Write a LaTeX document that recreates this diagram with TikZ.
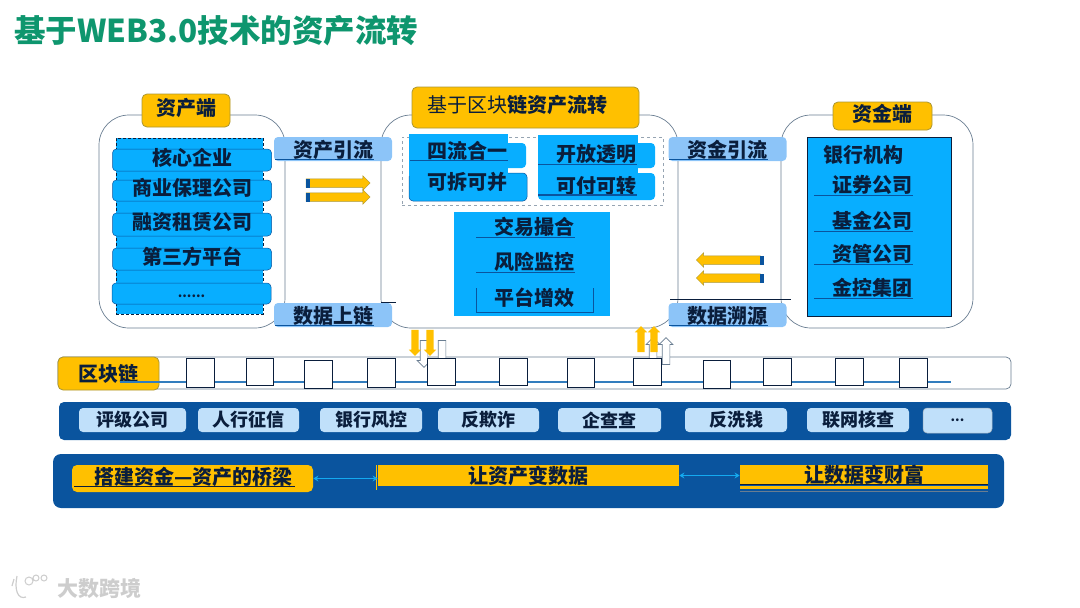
\documentclass[tikz,border=0pt]{standalone}
\usepackage{fontspec}
\setmainfont{Noto Sans CJK SC}
\usepackage{tikz}
\usetikzlibrary{positioning, arrows.meta, shapes.arrows}
\definecolor{titlegreen}{RGB}{14,150,110}
\definecolor{goldfill}{RGB}{255,192,0}
\definecolor{goldedge}{RGB}{170,150,50}
\definecolor{skyfill}{RGB}{8,174,255}
\definecolor{palefill}{RGB}{140,196,248}
\definecolor{pillfill}{RGB}{192,224,250}
\definecolor{navyband}{RGB}{10,84,158}
\definecolor{navyink}{RGB}{10,30,60}
\definecolor{edgegray}{RGB}{105,125,145}
\definecolor{linkcyan}{RGB}{20,170,240}
\definecolor{chainblue}{RGB}{50,125,190}
\definecolor{markgray}{RGB}{205,205,205}
\tikzset{
  txt/.style={font=\fontsize{#1}{#1}\selectfont\bfseries, text=navyink, inner sep=0pt},
  txt/.default=20,
  raised/.style={text height=15pt, text depth=5pt},
  panel/.style={draw=edgegray, rounded corners=30pt, line width=0.7pt, inner sep=0pt},
  goldbox/.style={
    draw=goldedge, fill=goldfill, rounded corners=5pt, line width=0.8pt,
    txt, inner sep=0pt
  },
  skybar/.style={
    draw=navyband, fill=skyfill, rounded corners=4pt, line width=0.5pt,
    txt, raised, minimum width=159pt, inner sep=0pt
  },
  skycell/.style={fill=skyfill, rounded corners=4pt, inner sep=0pt},
  skyrect/.style={fill=skyfill, inner sep=0pt},
  tagbox/.style={
    fill=palefill, rounded corners=4pt, txt, text depth=0pt,
    minimum width=118pt, minimum height=24pt
  },
  pillbox/.style={
    fill=pillfill, rounded corners=4pt, txt=18,
    minimum height=24pt
  },
  uline/.style={draw=navyband, line width=1.1pt},
  utext/.style={txt, text width=#1, align=right, minimum height=20pt},
  utext/.default=98pt,
  hairline/.style={draw=navyink, line width=0.6pt},
  blockarrow/.style={
    single arrow, draw=goldedge, fill=goldfill, line width=0.5pt, inner sep=4pt,
    minimum height=64pt, single arrow head extend=3pt
  },
  capbox/.style={fill=navyband, minimum width=4pt, minimum height=9pt, inner sep=0pt},
  updown/.style={
    single arrow, fill=goldfill, inner sep=3.5pt, minimum height=26pt,
    single arrow head extend=2.5pt
  },
  hollow/.style={
    single arrow, draw=edgegray, fill=white, line width=0.7pt, inner sep=3.5pt,
    minimum height=27pt, single arrow head extend=3pt
  },
  chainblock/.style={
    draw=navyink, fill=white, line width=0.7pt, inner sep=0pt,
    minimum width=27.5pt, minimum height=28pt
  },
  dlink/.style={{Stealth[length=5pt,width=6pt]}-{Stealth[length=5pt,width=6pt]}, linkcyan, line width=1.5pt}
}

\begin{document}
\begin{tikzpicture}[x=1pt, y=-1pt]
  \useasboundingbox (0,0) rectangle (1080,608);
  \node[anchor=west, txt=31.5, text=titlegreen] (title) at (14,31) {基于WEB3.0技术的资产流转};

  % three panels
  \node[panel, minimum width=186pt, minimum height=213pt] (assetpanel) at (192,221.5) {};
  \node[panel, minimum width=192pt, minimum height=213pt] (fundpanel) at (877,221.5) {};
  \node[panel, minimum width=297pt, minimum height=213pt] (flowpanel) at (529.5,221.5) {};
  \node[goldbox, raised, minimum width=88pt, minimum height=33pt] (assethead) at (186,110.5) {资产端};
  \node[goldbox, raised, minimum width=99pt, minimum height=28pt] (fundhead) at (882.5,116) {资金端};
  \node[goldbox, raised, minimum width=227pt, minimum height=41pt] (flowhead) at (525.5,107.5) {\hspace{-16pt}{\mdseries 基于区块}链资产流转};

  % asset side
  \node[skyrect, draw=navyink, densely dashed, line width=0.4pt, minimum width=147pt, minimum height=176pt] (assetstack) at (189.5,226) {};
  \foreach \nm/\tx/\y/\h in {core/核心企业/160/22, factor/商业保理公司/190.5/21, lease/融资租赁公司/224.5/23, third/第三方平台/259/22}
    \node[skybar, minimum height=\h pt] (\nm) at (192,\y) {\tx};
  \node[skybar, text height=10pt, text depth=3pt, minimum height=21pt] (moreasset) at (191.5,293.5) {\fontsize{13}{13}\selectfont ......};

  % flow side
  \node[draw=edgegray!70, dashed, line width=0.6pt, minimum width=261pt, minimum height=68pt, inner sep=0pt] (dashbox) at (532.5,171) {};
  \node[skyrect, minimum width=99pt, minimum height=42pt] (lefttop) at (458.5,155) {};
  \node[skyrect, minimum width=100pt, minimum height=42pt] (righttop) at (588,156) {};
  \node[skycell, minimum width=117pt, minimum height=25pt] (leftcell) at (467.5,155.5) {};
  \node[skycell, minimum width=117pt, minimum height=25pt] (rightcell) at (596.5,155.5) {};
  \node[skycell, draw=navyband, line width=0.5pt, minimum width=118pt, minimum height=28pt] (splitcell) at (468,187) {};
  \node[skycell, minimum width=117pt, minimum height=27pt] (paycell) at (596.5,186.5) {};
  \node[skyrect, minimum width=99pt, minimum height=6pt] (leftjoin) at (458.5,173) {};
  \node[txt] (merge) at (467,151) {四流合一};
  \node[txt] (split) at (467,182) {可拆可并};
  \node[txt] (open) at (596,154) {开放透明};
  \node[txt] (pay) at (596,186) {可付可转};
  \draw[uline] (410,160.5) -- (508,160.5);
  \draw[uline] (538,164.5) -- (637,164.5);
  \draw[uline] (538,195) -- (637,195);

  \node[skyrect, minimum width=156pt, minimum height=104pt] (matchbox) at (532,264) {};
  \foreach \nm/\tx/\y in {match/交易撮合/227, risk/风险监控/262} {
    \node[utext] (\nm) at (525.5,\y) {\tx};
    \draw[uline] (\nm.south west) -- (\nm.south east);
  }
  \node[txt] (boost) at (534,298) {平台增效};
  \draw[navyband, line width=0.5pt] (476,288) -- (476,312) -- (593,312) -- (593,288);

  % fund side
  \node[skyrect, draw=navyink, line width=0.8pt, minimum width=144pt, minimum height=179pt] (fundstack) at (879,226.5) {};
  \node[txt] (bank) at (863,155) {银行机构};
  \foreach \nm/\tx/\y in {broker/证券公司/185, mutual/基金公司/221, manage/资管公司/254, holding/金控集团/288} {
    \node[utext] (\nm) at (863.5,\y) {\tx};
    \draw[uline] (\nm.south west) -- (\nm.south east);
  }

  % tags over the panels
  \draw[hairline] (670,299.5) -- (791,299.5);
  \draw[hairline] (381,302) -- (396,302);
  \foreach \nm/\tx/\x/\y in {assetin/资产引流/333/149, dataup/数据上链/333/315, fundin/资金引流/727.5/149, datatrace/数据溯源/727.5/315}
    \node[tagbox] (\nm) at (\x,\y) {\tx};
  \draw[uline] (275,159.5) -- (374,159.5);
  \draw[uline] (275,325.5) -- (374,325.5);
  \draw[uline] (669,159.5) -- (768,159.5);
  \draw[uline] (669,325.5) -- (768,325.5);

  % block arrows
  \node[blockarrow] (assetarrowa) at (336,183) {};
  \node[blockarrow] (assetarrowb) at (336,197) {};
  \node[capbox, anchor=west] (assetcapa) at (assetarrowa.west) {};
  \node[capbox, anchor=west] (assetcapb) at (assetarrowb.west) {};
  \node[blockarrow, shape border rotate=180] (fundarrowa) at (730.5,260) {};
  \node[blockarrow, shape border rotate=180] (fundarrowb) at (730.5,278) {};
  \node[capbox, anchor=east] (fundcapa) at (764.5,260) {};
  \node[capbox, anchor=east] (fundcapb) at (764.5,278) {};

  % chain
  \node[draw=edgegray, fill=white, rounded corners=5pt, line width=0.7pt, minimum width=953pt, minimum height=32pt, inner sep=0pt] (chainbar) at (534.5,373) {};
  \node[goldbox, minimum width=101pt, minimum height=33pt] (chainhead) at (108.5,373.5) {区块链};
  \coordinate (chainstart) at (120,382);
  \coordinate (chainend) at (951,382);
  \draw[chainblue, line width=1.2pt] (chainstart) -- (chainend);

  \node[hollow, shape border rotate=270] (downa) at (424,352) {};
  \node[hollow, shape border rotate=270] (downb) at (442,352) {};
  \node[hollow, shape border rotate=90] (upa) at (653,353) {};
  \node[hollow, shape border rotate=90] (upb) at (666,353) {};

  \foreach \i/\x/\y/\h in {1/200.5/372.5/29, 2/260/371.5/27, 3/318.5/374/28, 4/381.5/372.5/29, 5/441.5/371.5/27, 6/513.5/371.5/27, 7/581/372.5/29, 8/647.5/371.5/27, 9/717/374/28, 10/777.5/371.5/27, 11/849.5/371.5/27, 12/913.5/372.5/29}
    \node[chainblock, minimum height=\h pt] (block\i) at (\x,\y) {};

  \node[updown, shape border rotate=270] (godowna) at (415,341) {};
  \node[updown, shape border rotate=270] (godownb) at (430,341) {};
  \node[updown, shape border rotate=90] (goupa) at (641,341) {};
  \node[updown, shape border rotate=90] (goupb) at (654,341) {};

  % services
  \node[fill=navyband, rounded corners=5pt, minimum width=952pt, minimum height=38pt, inner sep=0pt] (serviceband) at (535,421) {};
  \foreach \nm/\tx/\x/\w in {rating/评级公司/132.5/107, credit/人行征信/248.5/101, bankrisk/银行风控/371/102, antifraud/反欺诈/488.5/101, qcc/企查查/609.5/103, aml/反洗钱/736/102, idcheck/联网核查/858/102}
    \node[pillbox, minimum width=\w pt] (\nm) at (\x,420) {\tx};
  \node[pillbox, draw=edgegray!60, line width=0.5pt, minimum width=69pt, minimum height=25pt] (moreservice) at (957.5,420.5) {\fontsize{13}{13}\selectfont ...};

  % bottom band
  \node[fill=navyband, rounded corners=8pt, minimum width=951pt, minimum height=54pt, inner sep=0pt] (goalband) at (528.5,481) {};
  \node[goldbox, draw=none, minimum width=241pt, minimum height=27pt] (bridge) at (192.5,478.5) {};
  \node[txt] (bridgetext) at (193.5,476.5) {搭建资金—资产的桥梁};
  \draw[draw=navyink, line width=1pt] (74,486) -- (295,486);
  \node[goldbox, draw=none, sharp corners, minimum width=301pt, minimum height=21pt] (todata) at (528.5,475.5) {让资产变数据};
  \node[goldbox, draw=none, sharp corners, minimum width=248pt, minimum height=19pt] (towealth) at (864,474.5) {让数据变财富};
  \draw[draw=goldfill, line width=1pt] (376,465) -- (376,490);
  \draw[draw=navyink, line width=1pt] (740,484.5) -- (988,484.5);
  \draw[draw=goldfill, line width=2.5pt] (740,487.5) -- (988,487.5);
  \draw[draw=edgegray, line width=1pt] (740,491) -- (988,491);
  \draw[dlink] (bridge.east) -- (bridge.east -| todata.west);
  \draw[dlink] (todata.east) -- (todata.east -| towealth.west);

  % mark in the corner
  \node[txt=21, text=markgray, anchor=west] (markname) at (57,588) {大数跨境};
  \draw[markgray, line width=1.2pt] (14,579) -- (12,586) (17,576) .. controls (14,590) and (18,600) .. (26,597);
  \draw[markgray, line width=1pt] (29,581) circle (4pt) (36,578) circle (3pt) (44,578) circle (3pt);
\end{tikzpicture}
\end{document}
